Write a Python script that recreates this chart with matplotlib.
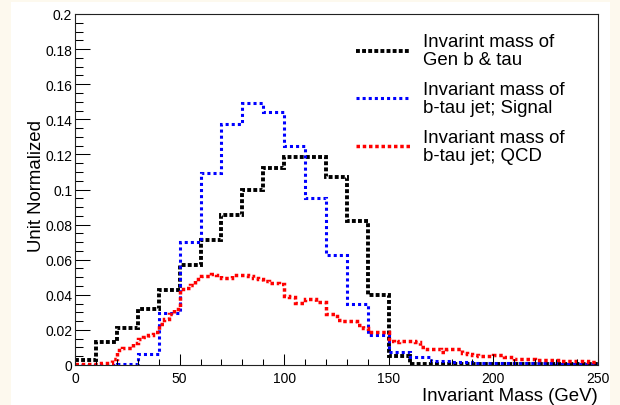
import numpy as np
import matplotlib.pyplot as plt
from matplotlib.patches import Rectangle
from matplotlib.ticker import MultipleLocator, FixedLocator, FixedFormatter

plt.rcParams['font.family'] = ['Liberation Sans', 'DejaVu Sans']
plt.rcParams['lines.scale_dashes'] = False

# bin edges (GeV)
edges_coarse = np.arange(0, 251, 10)      # 25 bins
edges_fine = np.linspace(0, 250, 101)     # 100 bins

# Gen b & tau, 10 GeV bins
gen_btau = [0.003, 0.013, 0.021, 0.032, 0.043, 0.057, 0.071, 0.0855, 0.100, 0.112,
            0.1184, 0.1184, 0.107, 0.082, 0.040, 0.005, 0.0004, 0.0003, 0.0003, 0.0003,
            0.0003, 0.0003, 0.0003, 0.0003, 0.0003]

# b-tau jet signal, 10 GeV bins
btau_signal = [0.0002, 0.0002, 0.0006, 0.0063, 0.0296, 0.0703, 0.1094, 0.1371, 0.1491, 0.144,
               0.1246, 0.0952, 0.0627, 0.0348, 0.0173, 0.0072, 0.0044, 0.0025, 0.0017, 0.0014,
               0.0013, 0.0010, 0.0009, 0.0008, 0.0007]

# b-tau jet QCD, 2.5 GeV bins
btau_qcd = [0.0003, 0.0003, 0.0003, 0.0005, 0.0005, 0.001, 0.0012, 0.0034, 0.0085, 0.0095,
            0.0098, 0.0123, 0.0148, 0.0162, 0.0172, 0.019, 0.0234, 0.026, 0.029, 0.0317,
            0.0433, 0.0437, 0.0456, 0.049, 0.0509, 0.0509, 0.0518, 0.0515, 0.0496, 0.0494,
            0.0511, 0.0511, 0.0511, 0.0509, 0.0496, 0.0488, 0.0478, 0.047, 0.0465, 0.046,
            0.0395, 0.0385, 0.0351, 0.0351, 0.0376, 0.0376, 0.036, 0.036, 0.029, 0.029,
            0.0255, 0.0252, 0.0252, 0.0252, 0.023, 0.021, 0.0186, 0.0186, 0.0186, 0.0186,
            0.0135, 0.0133, 0.0139, 0.0139, 0.0136, 0.0133, 0.010, 0.0093, 0.0093, 0.0091,
            0.0076, 0.0089, 0.0089, 0.0089, 0.0068, 0.0065, 0.0058, 0.0053, 0.0053, 0.0052,
            0.0057, 0.0055, 0.0045, 0.0044, 0.0036, 0.0034, 0.0034, 0.0032, 0.003, 0.003,
            0.0031, 0.003, 0.0028, 0.0025, 0.0024, 0.0022, 0.0022, 0.002, 0.0019, 0.0017]

legend_labels = ['Invarint mass of\nGen b & tau',
                 'Invariant mass of\nb-tau jet; Signal',
                 'Invariant mass of\nb-tau jet; QCD']

yticks = [0, 0.02, 0.04, 0.06, 0.08, 0.1, 0.12, 0.14, 0.16, 0.18, 0.2]
ytick_labels = ['0', '0.02', '0.04', '0.06', '0.08', '0.1', '0.12', '0.14', '0.16', '0.18', '0.2']
xticks = [0, 50, 100, 150, 200, 250]

styles = [dict(color='black', lw=2.8, ls=(0, (2.8, 1.6))),
          dict(color='#0000ff', lw=2.2, ls=(0, (2.2, 2.2))),
          dict(color='#ff0000', lw=2.5, ls=(0, (2.5, 2.0)))]

fig = plt.figure(figsize=(6.2, 4.06), dpi=100)
fig.patch.set_facecolor('#fdf9ee')
fig.add_artist(Rectangle((11 / 620, 0), 599 / 620, 403 / 406, transform=fig.transFigure,
                         facecolor='white', edgecolor='none', zorder=-10))

ax = fig.add_axes([75 / 620, 40 / 406, 523 / 620, 351 / 406])
ax.set_zorder(1)

hists = [(gen_btau, edges_coarse), (btau_signal, edges_coarse), (btau_qcd, edges_fine)]
for (vals, edges), st in zip(hists, styles):
    ax.stairs(vals, edges, baseline=None, fill=False, edgecolor=st['color'],
              linewidth=st['lw'], linestyle=st['ls'])

# legend drawn by hand, ROOT style
leg_y = [0.895, 0.760, 0.623]
for lab, st, y in zip(legend_labels, styles, leg_y):
    ax.plot([0.537, 0.6405], [y, y], transform=ax.transAxes, color=st['color'],
            lw=st['lw'], ls=st['ls'], solid_capstyle='butt')
    ax.text(0.665, y, lab, transform=ax.transAxes, fontsize=13.4, va='center', ha='left',
            linespacing=1.07)

ax.set_xlim(0, 250)
ax.set_ylim(0, 0.2)
ax.yaxis.set_major_locator(FixedLocator(yticks))
ax.yaxis.set_major_formatter(FixedFormatter(ytick_labels))
ax.yaxis.set_minor_locator(MultipleLocator(0.005))
ax.xaxis.set_major_locator(FixedLocator(xticks))
ax.xaxis.set_minor_locator(MultipleLocator(10))

ax.tick_params(axis='both', which='both', direction='in', width=0.75, colors='black',
               labelsize=10, top=False, right=False)
ax.tick_params(axis='y', which='major', length=10.8, pad=2)
ax.tick_params(axis='y', which='minor', length=5.4)
ax.tick_params(axis='x', which='major', length=7.9, pad=4)
ax.tick_params(axis='x', which='minor', length=4.0)
for sp in ax.spines.values():
    sp.set_linewidth(0.8)
    sp.set_color('#222222')

ax.set_xlabel('Invariant Mass (GeV)', fontsize=13.4, loc='right', va='center')
ax.xaxis.set_label_coords(1.0, -0.0855)
ax.set_ylabel('Unit Normalized', fontsize=13.4, va='center')
ax.yaxis.set_label_coords(-0.0727, 0.513)

fig.savefig('out.png', dpi=100, facecolor=fig.get_facecolor())
